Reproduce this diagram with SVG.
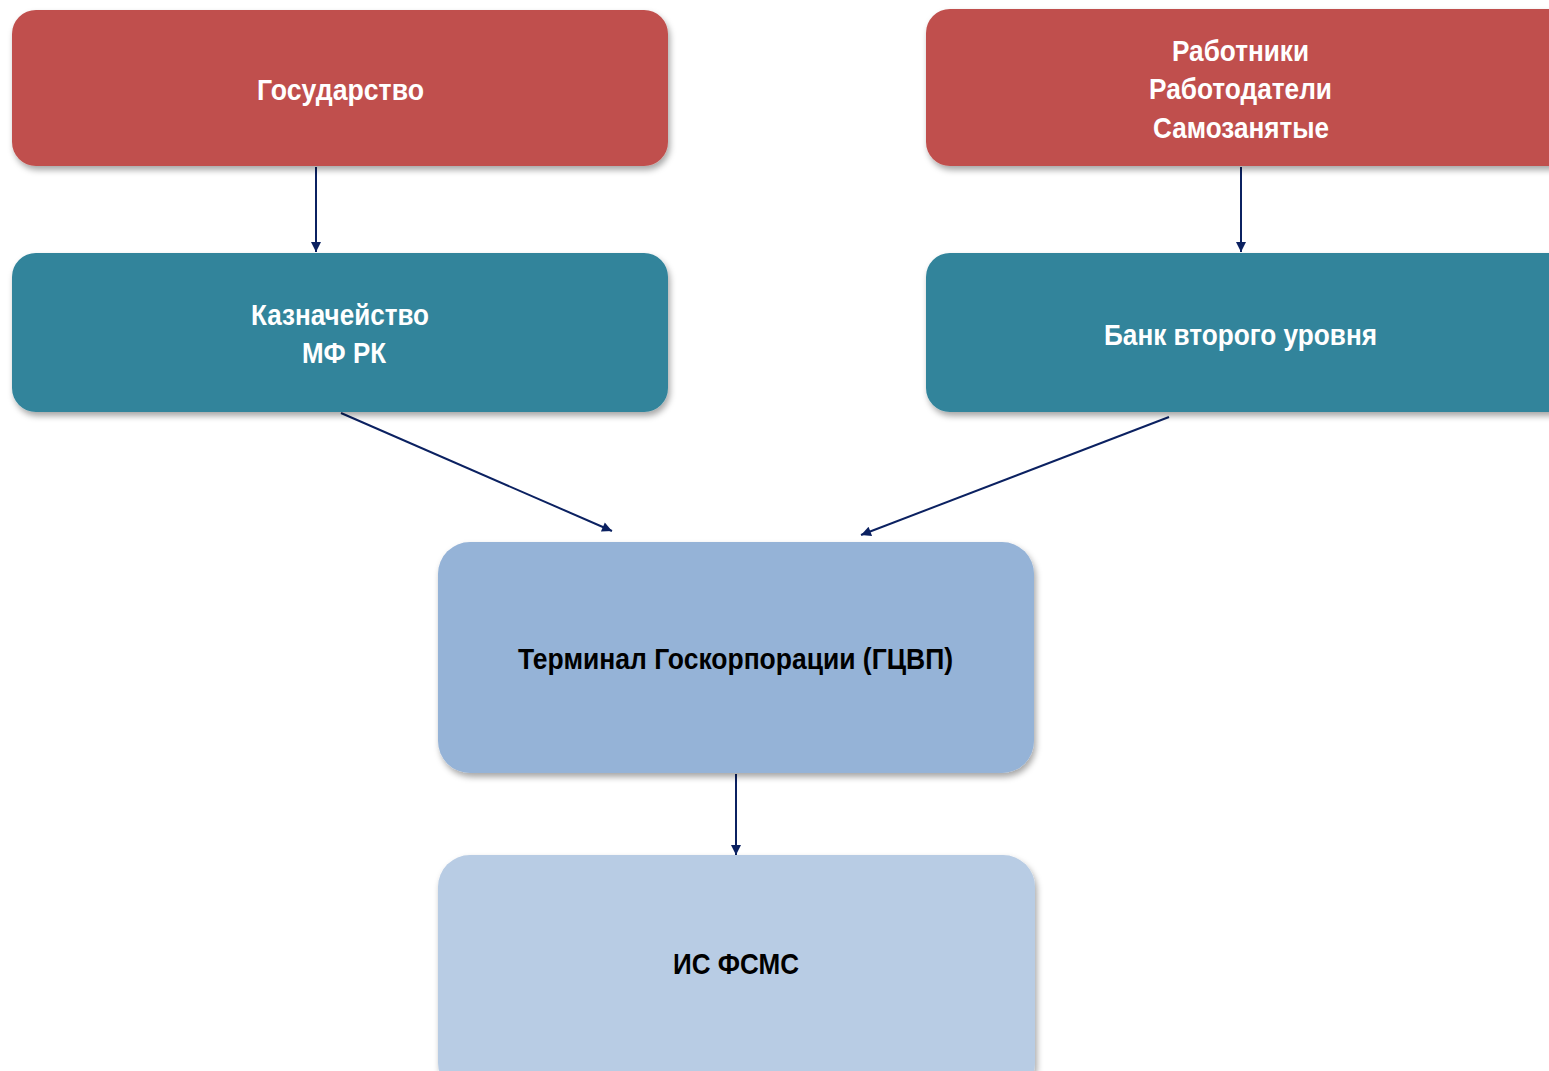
<svg xmlns="http://www.w3.org/2000/svg" width="1549" height="1071" viewBox="0 0 1549 1071">
<defs>
<filter id="sh" x="-10%" y="-10%" width="120%" height="130%">
<feDropShadow dx="2" dy="4" stdDeviation="3" flood-color="#000" flood-opacity="0.35"/>
</filter>
<marker id="ah" viewBox="0 0 10 10" refX="10" refY="5" markerWidth="11" markerHeight="10" markerUnits="userSpaceOnUse" orient="auto">
<path d="M0,0 L10,5 L0,10 z" fill="#0B2161"/>
</marker>
</defs>
<style>
.box{filter:url(#sh);}
.red{fill:#C0504D;}
.teal{fill:#31849B;}
.blue{fill:#95B3D7;}
.lblue{fill:#B8CCE4;}
.t{font-family:"Liberation Sans Narrow","Arial Narrow","Liberation Sans",sans-serif;font-weight:bold;font-size:30px;text-anchor:middle;}
.w{fill:#FFFFFF;}
.k{fill:#000000;}
.c{stroke:#0B2161;stroke-width:2;fill:none;marker-end:url(#ah);}
</style>
<rect width="1549" height="1071" fill="#FFFFFF"/>
<g id="connectors">
<line class="c" x1="316" y1="167" x2="316" y2="252"/>
<line class="c" x1="1241" y1="167" x2="1241" y2="252"/>
<line class="c" x1="341" y1="413" x2="612" y2="531"/>
<line class="c" x1="1169" y1="417" x2="861" y2="535"/>
<line class="c" x1="736" y1="774" x2="736" y2="855"/>
</g>
<g id="gosudarstvo">
<rect class="box red" x="12" y="10" width="656" height="156" rx="24"/>
<text class="t w" x="340.5" y="100" textLength="167" lengthAdjust="spacingAndGlyphs">Государство</text>
</g>
<g id="rabotniki">
<rect class="box red" x="926" y="9" width="650" height="157" rx="24"/>
<text class="t w" x="1240.5" y="61" textLength="137" lengthAdjust="spacingAndGlyphs">Работники</text>
<text class="t w" x="1240.5" y="99" textLength="183" lengthAdjust="spacingAndGlyphs">Работодатели</text>
<text class="t w" x="1241" y="138" textLength="176" lengthAdjust="spacingAndGlyphs">Самозанятые</text>
</g>
<g id="kaznacheystvo">
<rect class="box teal" x="12" y="253" width="656" height="159" rx="24"/>
<text class="t w" x="340" y="325" textLength="178" lengthAdjust="spacingAndGlyphs">Казначейство</text>
<text class="t w" x="344" y="363" textLength="84" lengthAdjust="spacingAndGlyphs">МФ РК</text>
</g>
<g id="bank">
<rect class="box teal" x="926" y="253" width="650" height="159" rx="24"/>
<text class="t w" x="1240.5" y="345" textLength="273" lengthAdjust="spacingAndGlyphs">Банк второго уровня</text>
</g>
<g id="terminal">
<rect class="box blue" x="438" y="542" width="596" height="231" rx="32"/>
<text class="t k" x="735.5" y="669" textLength="435" lengthAdjust="spacingAndGlyphs">Терминал Госкорпорации (ГЦВП)</text>
</g>
<g id="isfsms">
<rect class="box lblue" x="438" y="855" width="597" height="240" rx="32"/>
<text class="t k" x="736" y="974" textLength="126" lengthAdjust="spacingAndGlyphs">ИС ФСМС</text>
</g>
</svg>
